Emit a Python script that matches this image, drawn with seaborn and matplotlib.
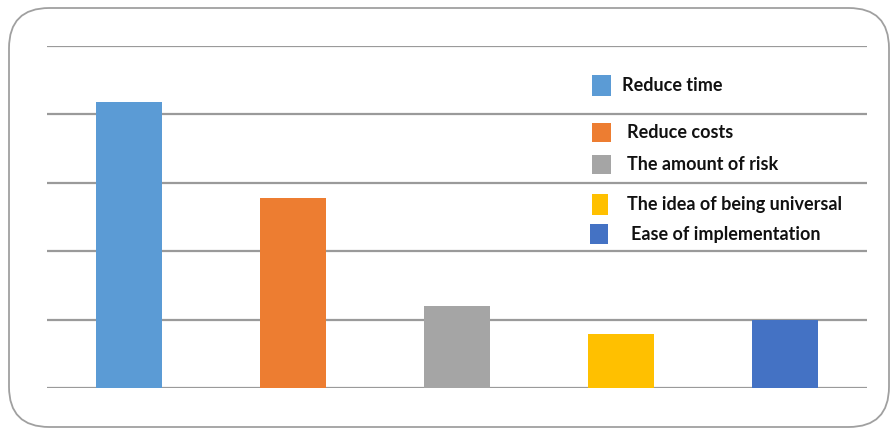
import matplotlib
matplotlib.use("Agg")
import matplotlib.pyplot as plt
import seaborn as sns
import pandas as pd
from matplotlib.patches import FancyBboxPatch, Patch

categories = ["Reduce time", "Reduce costs", "The amount of risk",
              "The idea of being universal", "Ease of implementation"]
values = [4.18, 2.78, 1.2, 0.79, 1.0]
colors = ["#5B9BD5", "#ED7D31", "#A5A5A5", "#FFC000", "#4472C4"]
y_ticks = [0, 1, 2, 3, 4, 5]

sns.set_theme(style="white")
plt.rcParams['font.family'] = ['Lato', 'DejaVu Sans']

W, H = 894, 430
fig = plt.figure(figsize=(W / 100, H / 100), dpi=100)
ax = fig.add_axes([47 / W, 1 - 388 / H, (867 - 47) / W, (388 - 46) / H])

df = pd.DataFrame({"cat": categories, "val": values})
sns.barplot(data=df, x="cat", y="val", hue="cat", palette=colors,
            width=0.4, ax=ax, legend=False, saturation=1, zorder=3,
            linewidth=0)

ax.set_ylim(0, 5)
ax.set_xlim(-0.5, 4.5)
ax.set_yticks(y_ticks)
ax.yaxis.grid(True, color="#9a9a9a", linewidth=1.6, zorder=0)
ax.set_axisbelow(True)
ax.set_xticks([])
ax.set_yticklabels([])
ax.tick_params(left=False, bottom=False)
ax.set_xlabel("")
ax.set_ylabel("")
for s in ax.spines.values():
    s.set_visible(False)
ax.patch.set_alpha(0)

# rounded frame
frame = FancyBboxPatch((9 / W, 1 - 427 / H), (889 - 9) / W, (427 - 8) / H,
                       boxstyle="round,pad=0,rounding_size=0.045",
                       transform=fig.transFigure, facecolor="none",
                       edgecolor="#a0a0a0", linewidth=1.3,
                       mutation_aspect=W / H, zorder=0)
fig.patches.append(frame)

# legend entries at their individual positions
fs = 13
fpx = fs * 100 / 72
leg_y = [85, 132, 164, 204, 234]
leg_x = [592, 592, 592, 592, 590]
hw = [19, 19, 19, 16, 18]
hh = [21, 19, 19, 21, 20]
gap = [11, 16, 16, 19, 23]
for i, (cat, col) in enumerate(zip(categories, colors)):
    h_units = (hh[i] / fpx - 0.245) / 0.65
    lg = fig.legend(handles=[Patch(facecolor=col, edgecolor="none")],
                    labels=[cat], loc="center left",
                    bbox_to_anchor=(leg_x[i] / W, 1 - leg_y[i] / H),
                    frameon=False, borderpad=0, borderaxespad=0,
                    handlelength=hw[i] / fpx, handleheight=h_units,
                    handletextpad=gap[i] / fpx,
                    prop={"family": ["Lato", "DejaVu Sans"], "size": fs,
                          "weight": "bold"})
    for t in lg.get_texts():
        t.set_color("#111111")

fig.savefig("out.png", dpi=100)
